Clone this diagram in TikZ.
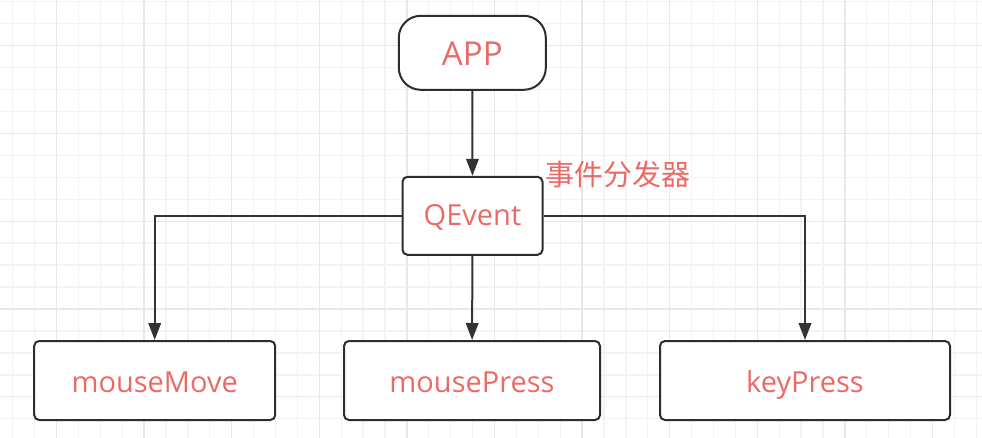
\documentclass[tikz,border=0pt]{standalone}
\usepackage{fontspec}
\setmainfont{Open Sans}
\newfontfamily\cjkfont{Noto Sans CJK SC}
\usetikzlibrary{arrows.meta}
\definecolor{txtred}{HTML}{EA6B66}
\definecolor{edgec}{HTML}{333333}
\definecolor{borderc}{HTML}{2A2E33}
\definecolor{gminor}{HTML}{F3F3F3}
\definecolor{gmajor}{HTML}{E8E8E8}
\begin{document}
\begin{tikzpicture}[x=1pt,y=-1pt,
  box/.style={draw=borderc, line width=2pt, fill=white, rounded corners=5pt,
    text=txtred, font=\fontsize{29}{34}\selectfont, minimum height=79pt, inner sep=0pt,
    text height=30.6pt, text depth=7pt},
  conn/.style={draw=edgec, line width=2pt, -{Triangle[width=12.5pt,length=17pt]}},
  gridminor/.style={draw=gminor, line width=1.3pt},
  gridmajor/.style={draw=gmajor, line width=1.3pt}]
\fill[white] (0,0) rectangle (982,438);
\useasboundingbox (0,0) rectangle (982,438);
% minor grid
\foreach \i in {0,...,44} {
  \pgfmathsetmacro\gx{12.7+21.9*\i}
  \draw[gridminor] (\gx,0) -- (\gx,438);
}
\foreach \j in {0,...,19} {
  \pgfmathsetmacro\gy{1.7+21.95*\j}
  \draw[gridminor] (0,\gy) -- (982,\gy);
}
% major grid
\foreach \i in {0,...,10} {
  \pgfmathsetmacro\gx{56.5+87.6*\i}
  \draw[gridmajor] (\gx,0) -- (\gx,438);
}
\foreach \j in {0,...,4} {
  \pgfmathsetmacro\gy{45.6+87.8*\j}
  \draw[gridmajor] (0,\gy) -- (982,\gy);
}
% nodes
\node[box, minimum width=147pt, minimum height=74pt, rounded corners=22pt,
  font=\fontsize{33}{38}\selectfont, text height=33.8pt, text depth=8pt] (app) at (472.3,52.8) {APP};
\node[box, minimum width=140pt, minimum height=78pt, text height=27.4pt, text depth=7pt] (qe) at (472.5,215.8) {QEvent};
\node[box, minimum width=241pt] (mm) at (154.7,380.5) {mouseMove};
\node[box, minimum width=256pt] (mp) at (472,380.5) {mousePress};
\node[box, minimum width=290pt] (kp) at (805,380.5) {keyPress};
\node[text=txtred, font=\cjkfont\fontsize{29}{33}\selectfont, inner sep=0pt] (lbl) at (618,174) {事件分发器};
% connectors
\draw[conn] (app) -- (qe);
\draw[conn] (qe.west) -| (mm.north);
\draw[conn] (qe) -- (mp);
\draw[conn] (qe.east) -| (kp.north);
\end{tikzpicture}
\end{document}
